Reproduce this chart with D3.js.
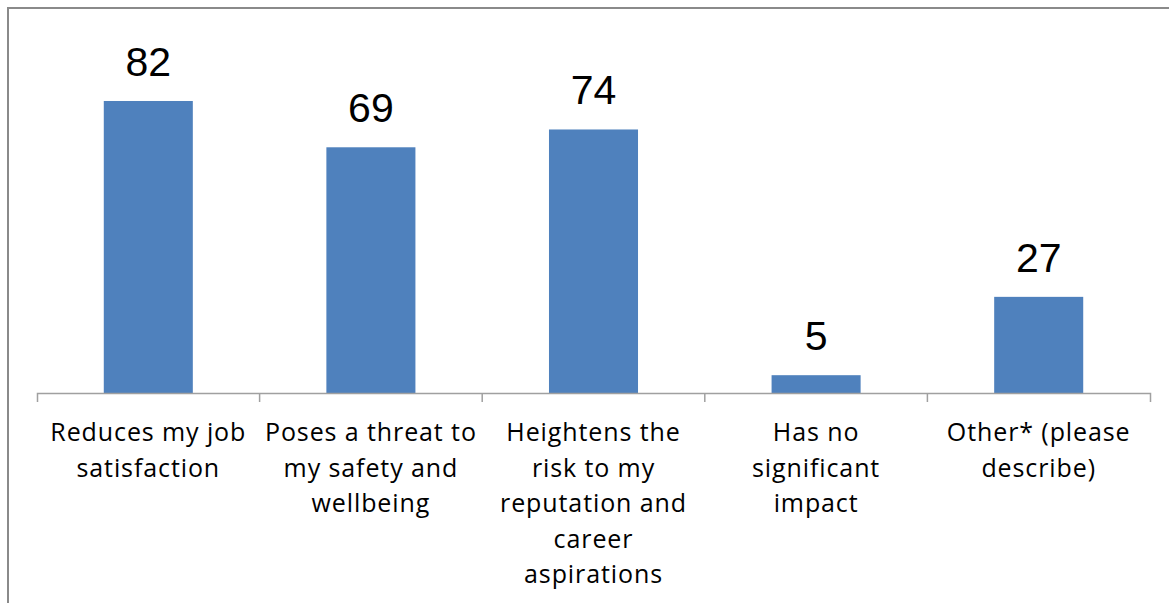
<!DOCTYPE html>
<html>
<head>
<meta charset="utf-8">
<script src="https://cdn.jsdelivr.net/npm/d3@7"></script>
<style>
  html, body { margin: 0; padding: 0; background: #ffffff; overflow: hidden; }
  svg { display: block; }
</style>
</head>
<body>
<svg id="chart" width="1169" height="603"></svg>
<script>
// Survey responses: impact on the respondent
const categories = [
  "Reduces my job\nsatisfaction",
  "Poses a threat to\nmy safety and\nwellbeing",
  "Heightens the\nrisk to my\nreputation and\ncareer\naspirations",
  "Has no\nsignificant\nimpact",
  "Other* (please\ndescribe)"
];
const counts = [82, 69, 74, 5, 27];
const yDomain = [0, 90];

const svg = d3.select("#chart");
const W = 1169, H = 603;

// Chart frame (runs off the right and bottom edges)
svg.append("rect")
  .attr("x", 8).attr("y", 8)
  .attr("width", W + 20).attr("height", H + 20)
  .attr("fill", "none")
  .attr("stroke", "#8a8a8a")
  .attr("stroke-width", 2);

const plot = { left: 37, right: 1150, top: 72.5, bottom: 393 };

const x = d3.scaleBand()
  .domain(categories)
  .range([plot.left, plot.right])
  .padding(0);

const y = d3.scaleLinear()
  .domain(yDomain)
  .range([plot.bottom, plot.top]);

const barW = x.bandwidth() * 0.4;

// Bars
svg.append("g")
  .selectAll("rect")
  .data(categories)
  .join("rect")
  .attr("x", d => x(d) + x.bandwidth() / 2 - barW / 2)
  .attr("y", (d, i) => y(counts[i]))
  .attr("width", barW)
  .attr("height", (d, i) => y(0) - y(counts[i]))
  .attr("fill", "#4F81BD");

// Value labels
svg.append("g")
  .selectAll("text")
  .data(categories)
  .join("text")
  .attr("x", d => x(d) + x.bandwidth() / 2)
  .attr("y", (d, i) => y(counts[i]) - 25)
  .attr("text-anchor", "middle")
  .attr("font-family", "'Liberation Sans', Arial, sans-serif")
  .attr("font-size", 41)
  .attr("fill", "#000")
  .text((d, i) => counts[i]);

// Category axis: baseline with tick marks between categories
const axis = d3.axisBottom(x).tickSizeInner(0).tickSizeOuter(9).tickFormat("");
const axisG = svg.append("g")
  .attr("transform", `translate(0,${plot.bottom})`)
  .call(axis);
axisG.select(".domain").attr("stroke", "#a0a0a0").attr("stroke-width", 1.5);
axisG.selectAll(".tick").remove();

const boundaries = categories.slice(1).map(c => x(c));
axisG.selectAll("line.sep")
  .data(boundaries)
  .join("line")
  .attr("class", "sep")
  .attr("x1", d => d).attr("x2", d => d)
  .attr("y1", 0).attr("y2", 9)
  .attr("stroke", "#a0a0a0")
  .attr("stroke-width", 1.5);

// Category labels, one tspan per line
const labels = svg.append("g")
  .selectAll("text")
  .data(categories)
  .join("text")
  .attr("x", d => x(d) + x.bandwidth() / 2)
  .attr("y", 441)
  .attr("text-anchor", "middle")
  .attr("font-family", "'Open Sans', 'Noto Sans', sans-serif")
  .attr("font-size", 25)
  .attr("letter-spacing", 0.9)
  .attr("fill", "#000");

labels.each(function(d) {
  const t = d3.select(this);
  const cx = x(d) + x.bandwidth() / 2;
  d.split("\n").forEach((line, k) => {
    t.append("tspan")
      .attr("x", cx)
      .attr("y", 441 + k * 35.5)
      .text(line);
  });
});
</script>
</body>
</html>
